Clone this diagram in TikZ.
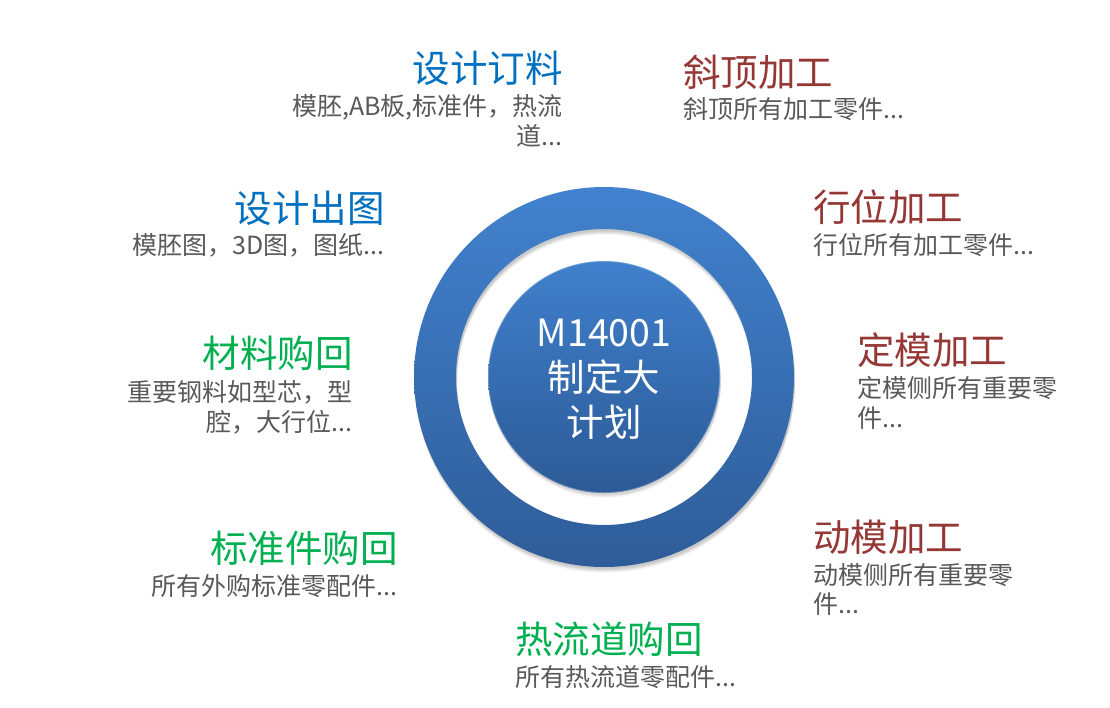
\documentclass[tikz,border=0pt]{standalone}
\usepackage{fontspec}
\setmainfont{Noto Sans CJK SC}
\definecolor{tblue}{HTML}{0070C0}
\definecolor{tred}{HTML}{953735}
\definecolor{tgreen}{HTML}{00B050}
\definecolor{subgray}{HTML}{595959}
\definecolor{ringtop}{HTML}{4282CE}
\definecolor{ringbot}{HTML}{2E5C98}
\definecolor{coretop}{HTML}{4080CC}
\definecolor{corebot}{HTML}{2C5A96}
\tikzset{
  ttl/.style={inner sep=0pt, font=\fontsize{37.5}{45}\selectfont},
  sub/.style={inner sep=0pt, text=subgray, font=\fontsize{25}{30}\selectfont},
  ctext/.style={inner sep=0pt, text=white, font=\fontsize{37.5}{45}\selectfont},
  tb/.style={ttl, text=tblue},
  tr/.style={ttl, text=tred},
  tg/.style={ttl, text=tgreen},
}
\begin{document}
\begin{tikzpicture}[x=1pt,y=-1pt]
\useasboundingbox (0,0) rectangle (1110,707);
\fill[white] (0,0) rectangle (1110,707);
\coordinate (c) at (604,377);
% ring shadow
\foreach \d/\o in {2/0.05,3/0.05,4/0.05,5/0.04,6/0.03}{
  \fill[black, opacity=\o, even odd rule] ([shift={(1,\d)}]c) circle[radius=190pt] ([shift={(1,\d)}]c) circle[radius=148pt];
}
% ring
\shade[top color=ringtop, bottom color=ringbot, even odd rule] (c) circle[radius=190pt] (c) circle[radius=148pt];
% core shadow
\foreach \d/\o in {2/0.05,3/0.05,4/0.04,5/0.03}{
  \fill[black, opacity=\o] ([shift={(1,\d)}]c) circle[radius=116pt];
}
\shade[top color=coretop, bottom color=corebot] (c) circle[radius=116pt];
\draw[white, opacity=0.25, line width=0.8pt] (c) circle[radius=115.6pt];
% centre text
\node[ctext, anchor=base] (m1) at (604,346) {M14001};
\node[ctext, anchor=base] (m2) at (604,391) {制定大};
\node[ctext, anchor=base] (m3) at (604,436) {计划};
% left side
\node[tb, anchor=base east] (t1) at (563,82) {设计订料};
\node[sub, anchor=base east] (s1a) at (563,115) {模胚,AB板,标准件，热流};
\node[sub, anchor=base east] (s1b) at (563,145) {道...};
\node[tb, anchor=base east] (t2) at (385,222) {设计出图};
\node[sub, anchor=base east] (s2) at (385,254) {模胚图，3D图，图纸...};
\node[tg, anchor=base east] (t3) at (353,367) {材料购回};
\node[sub, anchor=base east] (s3a) at (353,401) {重要钢料如型芯，型};
\node[sub, anchor=base east] (s3b) at (353,431) {腔，大行位...};
\node[tg, anchor=base east] (t4) at (398,562) {标准件购回};
\node[sub, anchor=base east] (s4) at (398,595) {所有外购标准零配件...};
% bottom
\node[tg, anchor=base west] (t5) at (515,653) {热流道购回};
\node[sub, anchor=base west] (s5) at (515,686) {所有热流道零配件...};
% right side
\node[tr, anchor=base west] (t6) at (683,86) {斜顶加工};
\node[sub, anchor=base west] (s6) at (683,118) {斜顶所有加工零件...};
\node[tr, anchor=base west] (t7) at (813,221) {行位加工};
\node[sub, anchor=base west] (s7) at (813,254) {行位所有加工零件...};
\node[tr, anchor=base west] (t8) at (857,364) {定模加工};
\node[sub, anchor=base west] (s8a) at (857,397) {定模侧所有重要零};
\node[sub, anchor=base west] (s8b) at (857,427) {件...};
\node[tr, anchor=base west] (t9) at (813,551) {动模加工};
\node[sub, anchor=base west] (s9a) at (813,584) {动模侧所有重要零};
\node[sub, anchor=base west] (s9b) at (813,613) {件...};
\end{tikzpicture}
\end{document}
